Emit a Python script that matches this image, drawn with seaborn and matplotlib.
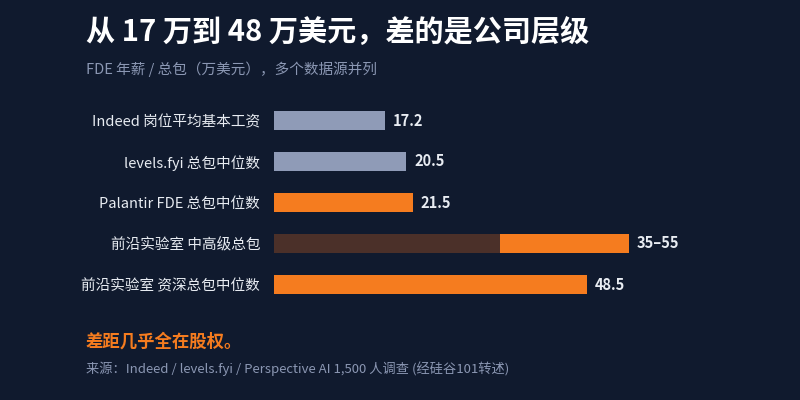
import matplotlib
matplotlib.use("Agg")
import matplotlib.pyplot as plt
import seaborn as sns
import numpy as np
import pandas as pd

categories = ["Indeed 岗位平均基本工资", "levels.fyi 总包中位数", "Palantir FDE 总包中位数",
              "前沿实验室 中高级总包", "前沿实验室 资深总包中位数"]
values = [17.2, 20.5, 21.5, 55, 48.5]
range_low = [np.nan, np.nan, np.nan, 35, np.nan]
value_labels = ["17.2", "20.5", "21.5", "35–55", "48.5"]
bar_colors = ["#8f9bb7", "#8f9bb7", "#f57c1f", "#f57c1f", "#f57c1f"]

BG = "#101a2e"
sns.set_theme(style="white")
plt.rcParams['font.family'] = ['Noto Sans CJK SC', 'DejaVu Sans']

fig = plt.figure(figsize=(8, 4), dpi=100, facecolor=BG)
ax = fig.add_axes([274 / 800, 1 - 305 / 400, 526 / 800, 205 / 400])
ax.set_facecolor(BG)

df = pd.DataFrame({"cat": categories, "val": values, "low": range_low})
sns.barplot(data=df, y="cat", x="val", hue="cat", palette=bar_colors, legend=False,
            width=0.45, ax=ax, saturation=1, linewidth=0)
sns.barplot(data=df, y="cat", x="low", color="#4b3029", width=0.45, ax=ax,
            saturation=1, linewidth=0)

ax.set_xlim(0, 81.5)
ax.set_ylim(4.5, -0.5)
for i, (v, lab) in enumerate(zip(values, value_labels)):
    ax.text(v + 1.2, i, lab, va="center", ha="left", color="#e8ecf2",
            fontsize=10.5, fontweight="bold")

ax.set_xlabel("")
ax.set_ylabel("")
ax.set_xticks([])
ax.tick_params(axis="y", length=0, pad=10, labelcolor="#e8ecf2", labelsize=10.5)
for lab in ax.get_yticklabels():
    lab.set_fontweight("medium")
for s in ax.spines.values():
    s.set_visible(False)

fig.text(86 / 800, 1 - 33 / 400, "从 17 万到 48 万美元，差的是公司层级", color="white",
         fontsize=21, fontweight="bold", va="center", ha="left")
fig.text(86 / 800, 1 - 69 / 400, "FDE 年薪 / 总包（万美元），多个数据源并列", color="#8b97b3",
         fontsize=10.5, fontweight="medium", va="center", ha="left")
fig.text(86 / 800, 1 - 342 / 400, "差距几乎全在股权。", color="#f57c1f",
         fontsize=12.5, fontweight="bold", va="center", ha="left")
fig.text(86 / 800, 1 - 369 / 400, "来源：Indeed / levels.fyi / Perspective AI 1,500 人调查 (经硅谷101转述)",
         color="#8b97b3", fontsize=9.5, fontweight="medium", va="center", ha="left")

fig.savefig("out.png", dpi=100, facecolor=BG)
